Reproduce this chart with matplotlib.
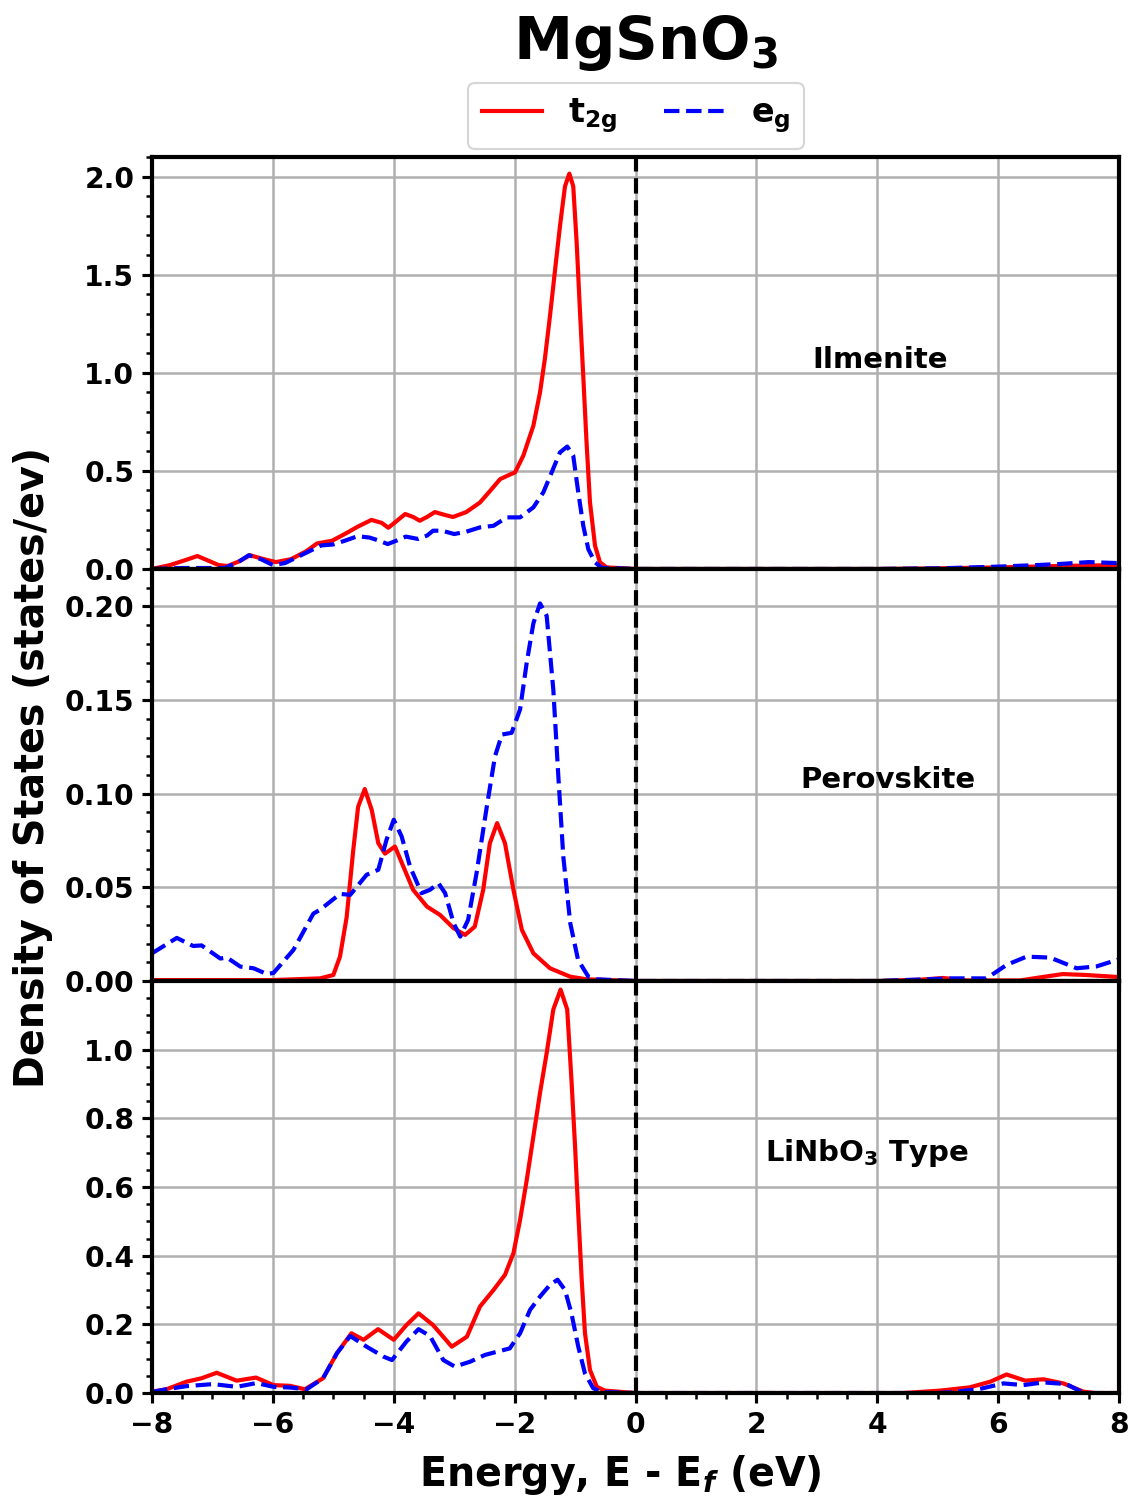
import numpy as np
import matplotlib
matplotlib.use("Agg")
import matplotlib.pyplot as plt

plt.rcParams['font.family'] = ['DejaVu Sans']
plt.rcParams['font.weight'] = 'bold'
plt.rcParams['axes.labelweight'] = 'bold'
plt.rcParams['mathtext.default'] = 'bf'

# Ilmenite
ilm_e_t2g = [-8.0, -7.7, -7.45, -7.25, -7.05, -6.9, -6.75, -6.55, -6.38, -6.15, -5.95, -5.7, -5.45, -5.27,
             -5.02, -4.8, -4.6, -4.37, -4.2, -4.09, -3.95, -3.81, -3.68, -3.57, -3.45, -3.32, -3.15, -3.02,
             -2.8, -2.573, -2.4, -2.24, -2.1, -1.994, -1.857, -1.69, -1.58, -1.5, -1.415, -1.33, -1.25,
             -1.167, -1.095, -1.03, -0.973, -0.92, -0.864, -0.81, -0.753, -0.67, -0.588, -0.477, 0.0, 2.0,
             4.0, 5.0, 6.0, 7.0, 8.0]
ilm_t2g = [0.0, 0.02, 0.045, 0.066, 0.04, 0.02, 0.015, 0.04, 0.07, 0.05, 0.035, 0.05, 0.09, 0.13,
           0.144, 0.18, 0.215, 0.25, 0.235, 0.21, 0.245, 0.28, 0.265, 0.246, 0.265, 0.29, 0.275, 0.265,
           0.29, 0.339, 0.40, 0.458, 0.478, 0.492, 0.577, 0.73, 0.90, 1.07, 1.29, 1.527, 1.747,
           1.95, 2.015, 1.95, 1.66, 1.32, 0.98, 0.645, 0.339, 0.119, 0.034, 0.008, 0.0, 0.0,
           0.0, 0.003, 0.008, 0.015, 0.02]
ilm_e_eg = [-8.0, -7.5, -7.0, -6.8, -6.6, -6.4, -6.2, -6.0, -5.8, -5.6, -5.4, -5.2, -5.0, -4.8, -4.6,
            -4.4, -4.25, -4.1, -3.95, -3.8, -3.6, -3.45, -3.35, -3.2, -3.0, -2.8, -2.573, -2.35, -2.13, -1.91,
            -1.69, -1.526, -1.39, -1.25, -1.13, -1.03, -0.947, -0.864, -0.78, -0.67, -0.56, 0.0, 2.0,
            4.0, 5.0, 6.0, 6.5, 7.0, 7.5, 8.0]
ilm_eg = [0.0, 0.005, 0.005, 0.005, 0.03, 0.07, 0.05, 0.02, 0.03, 0.06, 0.09, 0.12, 0.125, 0.145, 0.167,
          0.16, 0.145, 0.127, 0.145, 0.165, 0.153, 0.17, 0.195, 0.195, 0.178, 0.19, 0.212, 0.22, 0.263, 0.263,
          0.314, 0.39, 0.49, 0.594, 0.624, 0.577, 0.39, 0.22, 0.10, 0.034, 0.006, 0.0, 0.0,
          0.0, 0.003, 0.012, 0.018, 0.025, 0.035, 0.03]

# Perovskite
per_e_t2g = [-8.0, -6.0, -5.22, -5.0, -4.89, -4.78, -4.67, -4.59, -4.48, -4.365, -4.256, -4.145, -3.98, -3.84,
             -3.68, -3.45, -3.235, -3.01, -2.82, -2.66, -2.52, -2.41, -2.29, -2.16, -2.02, -1.88, -1.69, -1.415,
             -1.08, -0.81, 0.0, 4.0, 4.71, 5.09, 5.48, 6.36, 6.69, 7.07, 7.46, 8.0]
per_t2g = [0.0005, 0.0005, 0.0014, 0.0032, 0.013, 0.034, 0.070, 0.093, 0.1025, 0.0914, 0.0736, 0.068, 0.0718, 0.061,
           0.0487, 0.0397, 0.0353, 0.0282, 0.0246, 0.029, 0.0487, 0.0736, 0.0843, 0.0736, 0.0487, 0.0273, 0.0148, 0.0068,
           0.0023, 0.0009, 0.0, 0.0, 0.0007, 0.0016, 0.0003, 0.0003, 0.0019, 0.0037, 0.0032, 0.0021]
per_e_eg = [-8.0, -7.59, -7.32, -7.18, -6.87, -6.76, -6.54, -6.32, -6.1, -5.99, -5.66, -5.33, -5.22, -4.89,
            -4.72, -4.45, -4.256, -4.12, -4.0, -3.87, -3.73, -3.54, -3.4, -3.26, -3.15, -3.01, -2.9, -2.77,
            -2.63, -2.46, -2.325, -2.21, -2.05, -1.91, -1.8, -1.69, -1.58, -1.47, -1.36, -1.28, -1.195, -1.08,
            -0.95, -0.78, -0.64, 0.0, 4.0, 5.26, 5.81, 6.14, 6.47, 6.86, 7.3, 7.63, 8.0]
per_eg = [0.0148, 0.023, 0.0187, 0.019, 0.012, 0.0125, 0.0077, 0.0068, 0.0037, 0.0043, 0.0166, 0.036, 0.038, 0.0465,
          0.046, 0.0567, 0.0594, 0.0754, 0.0861, 0.0772, 0.061, 0.0469, 0.0487, 0.0522, 0.0469, 0.0309, 0.0237, 0.0326,
          0.0576, 0.0932, 0.12, 0.1316, 0.1325, 0.145, 0.17, 0.191, 0.2016, 0.195, 0.1556, 0.111, 0.0665, 0.0309,
          0.0112, 0.0023, 0.0009, 0.0, 0.0, 0.0014, 0.0014, 0.0086, 0.013, 0.0125, 0.0068, 0.0078, 0.0116]

# LiNbO3 type
lin_e_t2g = [-8.0, -7.76, -7.43, -7.18, -6.93, -6.6, -6.28, -5.99, -5.72, -5.47, -5.17, -4.94, -4.7, -4.5,
             -4.26, -4.0, -3.79, -3.59, -3.35, -3.04, -2.79, -2.573, -2.35, -2.16, -2.02, -1.91, -1.8, -1.69,
             -1.58, -1.47, -1.36, -1.24, -1.13, -1.06, -1.0, -0.947, -0.89, -0.836, -0.753, -0.64, -0.505,
             0.0, 4.43, 5.04, 5.53, 5.87, 6.14, 6.45, 6.75, 7.08, 7.41, 7.6, 8.0]
lin_t2g = [0.004, 0.011, 0.033, 0.043, 0.059, 0.036, 0.045, 0.023, 0.021, 0.011, 0.043, 0.116, 0.174, 0.155,
           0.186, 0.155, 0.198, 0.232, 0.198, 0.135, 0.164, 0.252, 0.30, 0.344, 0.407, 0.504, 0.62, 0.747,
           0.874, 0.99, 1.117, 1.175, 1.117, 0.913, 0.718, 0.524, 0.33, 0.174, 0.067, 0.018, 0.007,
           0.0, 0.0, 0.007, 0.0165, 0.033, 0.054, 0.036, 0.04, 0.028, 0.004, 0.0, 0.0]
lin_e_eg = [-8.0, -7.76, -7.43, -6.99, -6.6, -6.27, -5.99, -5.72, -5.44, -5.17, -4.94, -4.72, -4.45, -4.17,
            -4.03, -3.79, -3.59, -3.4, -3.18, -2.99, -2.74, -2.49, -2.08, -1.91, -1.745, -1.58, -1.415, -1.29,
            -1.167, -1.06, -0.947, -0.836, -0.7, -0.56, 0.0, 5.0, 5.26, 5.7, 6.09, 6.42, 6.75, 7.13, 7.35,
            7.5, 8.0]
lin_eg = [0.003, 0.011, 0.02, 0.026, 0.018, 0.029, 0.018, 0.016, 0.011, 0.043, 0.116, 0.166, 0.135, 0.106,
          0.096, 0.15, 0.186, 0.166, 0.096, 0.077, 0.091, 0.111, 0.13, 0.174, 0.242, 0.281, 0.315, 0.33,
          0.30, 0.232, 0.135, 0.057, 0.014, 0.003, 0.0, 0.0, 0.003, 0.012, 0.028, 0.023, 0.031, 0.026, 0.006,
          0.0, 0.0]

panels = [
    (ilm_e_t2g, ilm_t2g, ilm_e_eg, ilm_eg, "Ilmenite", (0.753, 0.508), (0, 2.1), [0.0, 0.5, 1.0, 1.5, 2.0], "%.1f"),
    (per_e_t2g, per_t2g, per_e_eg, per_eg, "Perovskite", (0.761, 0.489), (0, 0.22), [0.0, 0.05, 0.10, 0.15, 0.20], "%.2f"),
    (lin_e_t2g, lin_t2g, lin_e_eg, lin_eg, "LiNbO$_3$ Type", (0.739, 0.583), (0, 1.2), [0.0, 0.2, 0.4, 0.6, 0.8, 1.0], "%.1f"),
]

fig, axes = plt.subplots(3, 1, sharex=True, figsize=(1132 / 150, 1499 / 150), dpi=150)
fig.subplots_adjust(left=0.1343, right=0.9885, top=0.8953, bottom=0.0707, hspace=0)

for ax, (et, t2g, ee, eg, name, pos, ylim, yt, fmt) in zip(axes, panels):
    l1, = ax.plot(et, t2g, color="red", lw=2, label="t$_{2g}$")
    l2, = ax.plot(ee, eg, color="blue", ls="--", lw=2, label="e$_g$")
    ax.axvline(0, color="k", ls="--", lw=2)
    ax.set_ylim(*ylim)
    ax.set_xlim(-8, 8)
    ax.set_yticks(yt)
    ax.set_yticklabels([fmt % v for v in yt])
    ax.minorticks_on()
    ax.grid(True, which="major", color="#b0b0b0", lw=1.2)
    ax.text(pos[0], pos[1], name, transform=ax.transAxes, ha="center", va="center",
            fontsize=14, fontweight="bold")
    for s in ax.spines.values():
        s.set_linewidth(2)
    ax.tick_params(which="major", width=1.5, length=5, labelsize=13.5)
    ax.tick_params(which="minor", width=1.2, length=3)

axes[2].set_xticks([-8, -6, -4, -2, 0, 2, 4, 6, 8])

fig.legend([l1, l2], ["t$_{2g}$", "e$_g$"], loc="center", bbox_to_anchor=(0.562, 0.9226), ncol=2,
           prop={"size": 16, "weight": "bold"}, handlelength=1.8, columnspacing=1.4)
fig.text(0.57, 0.971, "MgSnO$_3$", ha="center", va="center", fontsize=28.5, fontweight="bold")
fig.text(0.029, 0.488, "Density of States (states/ev)", rotation=90, ha="center", va="center",
         fontsize=19, fontweight="bold")
fig.text(0.548, 0.016, r"Energy, E - E$_\mathbfit{f}$ (eV)", ha="center", va="center", fontsize=19,
         fontweight="bold")

fig.savefig("out.png", dpi=150)
